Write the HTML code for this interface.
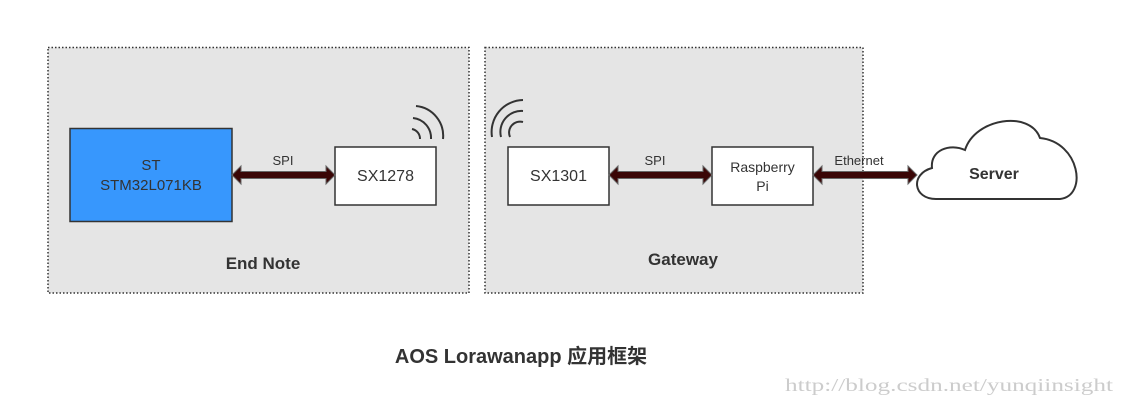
<!DOCTYPE html>
<html><head><meta charset="utf-8"><style>
html,body{margin:0;padding:0;background:#fff;}
svg{display:block;}
</style></head><body>
<svg width="1126" height="405" viewBox="0 0 1126 405" xmlns="http://www.w3.org/2000/svg" font-family="Liberation Sans, sans-serif">
<rect x="48" y="47.5" width="421" height="245.5" fill="#e5e5e5" stroke="#333" stroke-width="1.5" stroke-dasharray="1.5,2"/>
<rect x="485" y="47.5" width="378" height="245.5" fill="#e5e5e5" stroke="#333" stroke-width="1.5" stroke-dasharray="1.5,2"/>

<rect x="70" y="128.5" width="162" height="93" fill="#3797fd" stroke="#333" stroke-width="1.5"/>
<text x="151" y="170" font-size="15" fill="#333" text-anchor="middle">ST</text>
<text x="151" y="190" font-size="15" fill="#333" text-anchor="middle">STM32L071KB</text>

<rect x="335" y="147" width="101" height="58" fill="#fff" stroke="#333" stroke-width="1.5"/>
<text x="385.5" y="181" font-size="16" fill="#333" text-anchor="middle">SX1278</text>

<rect x="508" y="147" width="101" height="58" fill="#fff" stroke="#333" stroke-width="1.5"/>
<text x="558.5" y="181" font-size="16" fill="#333" text-anchor="middle">SX1301</text>

<rect x="712" y="147" width="101" height="58" fill="#fff" stroke="#333" stroke-width="1.5"/>
<text x="762.5" y="172" font-size="14" fill="#333" text-anchor="middle">Raspberry</text>
<text x="762.5" y="191" font-size="14" fill="#333" text-anchor="middle">Pi</text>

<g stroke="#666" stroke-width="1" fill="#3a0606">
<path d="M232,175 L241,166 L241,171.5 L326,171.5 L326,166 L335,175 L326,184 L326,178.5 L241,178.5 L241,184 Z"/>
<path d="M609,175 L618,166 L618,171.5 L703,171.5 L703,166 L712,175 L703,184 L703,178.5 L618,178.5 L618,184 Z"/>
<path d="M813,175 L822,166 L822,171.5 L908,171.5 L908,166 L917,175 L908,184 L908,178.5 L822,178.5 L822,184 Z"/>
</g>
<text x="283" y="165" font-size="13" fill="#333" text-anchor="middle">SPI</text>
<text x="655" y="165" font-size="13" fill="#333" text-anchor="middle">SPI</text>
<text x="859" y="165" font-size="13" fill="#333" text-anchor="middle">Ethernet</text>

<g fill="none" stroke="#333" stroke-width="2">
<path d="M420,139 A10,10 0 0 0 412,129"/>
<path d="M431,139 A20,20 0 0 0 413,118"/>
<path d="M443,139 A30,30 0 0 0 416,106"/>
<path d="M510,137 A11,11 0 0 1 523,122"/>
<path d="M501,137 A21,21 0 0 1 523,111"/>
<path d="M492,137 A32,32 0 0 1 523,100"/>
</g>

<path d="M936,199 C913,199 910,174 932,168 C930,150 950,143 965,150 C975,118 1030,110 1040,138 C1080,142 1088,196 1060,199 Z" fill="#fff" stroke="#333" stroke-width="2"/>
<text x="994" y="179" font-size="16" font-weight="bold" fill="#333" text-anchor="middle">Server</text>

<text x="263" y="269" font-size="17" font-weight="bold" fill="#333" text-anchor="middle">End Note</text>
<text x="683" y="265" font-size="17" font-weight="bold" fill="#333" text-anchor="middle">Gateway</text>

<text x="521" y="363" font-size="20" font-weight="bold" fill="#333" text-anchor="middle" font-family="Liberation Sans, Noto Sans CJK SC, sans-serif">AOS Lorawanapp 应用框架</text>
<text x="1113" y="391" font-size="18" fill="#ccc" text-anchor="end" font-family="Liberation Serif, serif" textLength="328" lengthAdjust="spacingAndGlyphs">http://blog.csdn.net/yunqiinsight</text>
</svg>
</body></html>
